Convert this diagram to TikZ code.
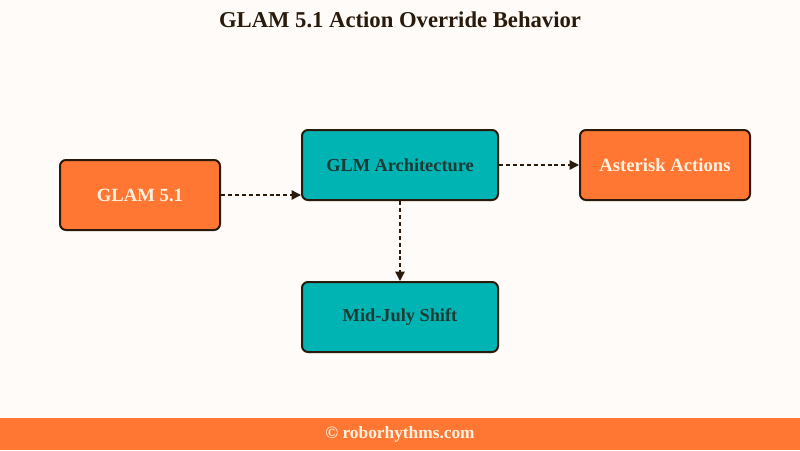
\documentclass[tikz,border=0pt]{standalone}
\usepackage{fontspec}
\setmainfont{Liberation Serif}
\usetikzlibrary{arrows.meta}

\definecolor{bgcream}{HTML}{FFFBF8}
\definecolor{glamorange}{HTML}{FF7733}
\definecolor{glmteal}{HTML}{00B4B4}
\definecolor{edgebrown}{HTML}{2A1A0C}
\definecolor{tealtext}{HTML}{1E3A34}
\definecolor{creamtext}{HTML}{FFF1E0}

\tikzset{
    orangebox/.style={draw=edgebrown, line width=1.5pt, rounded corners=4.5pt, fill=glamorange,
        text=creamtext, font=\bfseries\fontsize{14}{16}\selectfont, inner sep=0pt},
    tealbox/.style={draw=edgebrown, line width=1.5pt, rounded corners=4.5pt, fill=glmteal,
        text=tealtext, font=\bfseries\fontsize{13.75}{16}\selectfont, inner sep=0pt,
        minimum width=147pt, minimum height=52.5pt},
    flow/.style={draw=edgebrown, line width=1pt, dashed, dash pattern=on 3pt off 2.2pt,
        -{Triangle[length=7pt, width=7pt]}}
}

\begin{document}
\begin{tikzpicture}[x=0.75pt, y=-0.75pt]

        % background and footer band
        \fill[bgcream] (0,0) rectangle (800,450);
        \useasboundingbox (0,0) rectangle (800,450);
        \fill[glamorange] (0,418) rectangle (800,450);

        \node[text=edgebrown, font=\bfseries\fontsize{17}{19}\selectfont] (title) at (400,20) {GLAM 5.1 Action Override Behavior};
        \node[text=creamtext, font=\bfseries\fontsize{13}{15}\selectfont] (credit) at (400,434) {\char"00A9{} roborhythms.com};

        % boxes
        \node[orangebox, minimum width=120pt, minimum height=52.5pt] (glam) at (140,195) {GLAM 5.1};
        \node[tealbox] (glm) at (400,165) {GLM Architecture};
        \node[orangebox, minimum width=127.5pt, minimum height=52.5pt] (asterisk) at (665,165) {Asterisk Actions};
        \node[tealbox] (shift) at (400,317) {Mid-July Shift};

        % Draw edges between the boxes
        \draw[flow] (glam.east) -- (glam.east -| glm.west);
        \draw[flow] (glm.east) -- (asterisk.west);
        \draw[flow] (glm.south) -- (shift.north);

\end{tikzpicture}
\end{document}
